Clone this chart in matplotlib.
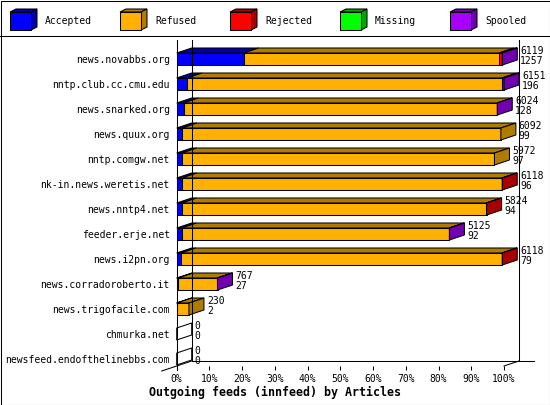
import numpy as np
import matplotlib
matplotlib.use("Agg")
import matplotlib.pyplot as plt
from matplotlib.patches import Polygon, Rectangle

# data
hosts = ["news.novabbs.org", "nntp.club.cc.cmu.edu", "news.snarked.org",
         "news.quux.org", "nntp.comgw.net", "nk-in.news.weretis.net",
         "news.nntp4.net", "feeder.erje.net", "news.i2pn.org",
         "news.corradoroberto.it", "news.trigofacile.com", "chmurka.net",
         "newsfeed.endofthelinebbs.com"]
offered = [6119, 6151, 6024, 6092, 5972, 6118, 5824, 5125, 6118, 767, 230, 0, 0]
accepted = [1257, 196, 128, 99, 97, 96, 94, 92, 79, 27, 2, 0, 0]
refused = [4797, 5915, 5893, 5993, 5875, 6014, 5722, 5030, 6033, 737, 228, 0, 0]
rejected = [60, 0, 0, 0, 0, 8, 8, 0, 6, 0, 0, 0, 0]
missing = [0, 0, 0, 0, 0, 0, 0, 0, 0, 0, 0, 0, 0]
spooled = [5, 40, 3, 0, 0, 0, 0, 3, 0, 3, 0, 0, 0]

series_names = ["Accepted", "Refused", "Rejected", "Missing", "Spooled"]
front_colors = ["#0000ff", "#ffb000", "#ff0000", "#00ff00", "#a800ff"]
dark_colors = ["#0000a8", "#b07c00", "#a80000", "#00a800", "#7000b0"]
pct_labels = ["%d%%" % p for p in range(0, 101, 10)]

FONT = "DejaVu Sans Mono"
FS = 7.0
LW = 0.75
full = max(offered)  # 100%

fig = plt.figure(figsize=(5.5, 4.05), dpi=100)

# plot area in pixels: x 176.7..504, y 40..366
ax = fig.add_axes([176.7 / 550, 1 - 366 / 405, 327.3 / 550, 326 / 405])
ax.set_xlim(0, full)
ax.set_ylim(12.28, -0.76)
for s in ax.spines.values():
    s.set_visible(False)

xpx = full / 327.3      # articles per pixel
ypx = 1 / 25.0          # categories per pixel
dx = 15 * xpx
dy = 5 * ypx
hh = 6 * ypx

ax.set_xticks(np.linspace(0, full, 11))
ax.set_xticklabels(pct_labels, fontfamily=FONT, fontsize=FS)
ax.tick_params(axis="x", direction="out", length=3, width=LW, pad=3)
ax.set_yticks(range(len(hosts)))
ax.set_yticklabels(hosts, fontfamily=FONT, fontsize=FS)
ax.tick_params(axis="y", length=0, pad=5)

floor = 12.28
floor_back = floor - dy
top = -0.76
kw = dict(color="black", lw=LW, clip_on=False)
ax.plot([dx, dx], [top, floor_back], **kw)
ax.plot([full + dx, full + dx], [top, floor_back], **kw)
ax.plot([dx, full + 2 * dx], [floor_back, floor_back], **kw)
ax.plot([-dx, dx], [floor + dy, floor_back], **kw)
ax.plot([full, full + dx], [floor, floor_back], **kw)
ax.plot([0, 0], [top, floor + 4 * ypx], **kw)

segments = [accepted, refused, rejected, missing, spooled]
for i, host in enumerate(hosts):
    yt, yb = i - hh, i + hh
    left = 0
    last = None
    for k, seg in enumerate(segments):
        v = seg[i]
        if v <= 0:
            continue
        right = left + v
        ax.add_patch(Polygon([(left, yt), (right, yt), (right + dx, yt - dy), (left + dx, yt - dy)],
                             closed=True, fc=dark_colors[k], ec="black", lw=LW, clip_on=False))
        ax.add_patch(Rectangle((left, yt), v, yb - yt, fc=front_colors[k], ec="black",
                               lw=LW, clip_on=False))
        last = k
        left = right
    if last is None:
        fc = "white"
    else:
        fc = dark_colors[last]
    ax.add_patch(Polygon([(left, yt), (left + dx, yt - dy), (left + dx, yb - dy), (left, yb)],
                         closed=True, fc=fc, ec="black", lw=LW, clip_on=False))
    tx = offered[i] + dx + 3 * xpx
    ax.text(tx, i - 8.3 * ypx, str(offered[i]), fontfamily=FONT, fontsize=FS,
            va="center", ha="left", clip_on=False)
    ax.text(tx, i + 1.8 * ypx, str(accepted[i]), fontfamily=FONT, fontsize=FS,
            va="center", ha="left", clip_on=False)

# overlay in pixel coordinates for legend and frame
ov = fig.add_axes([0, 0, 1, 1], zorder=-1)
ov.set_xlim(0, 550)
ov.set_ylim(405, 0)
ov.axis("off")
ov.add_patch(Rectangle((0.5, 0.5), 549, 404, fill=False, ec="black", lw=LW))
ov.plot([0, 550], [36, 36], color="black", lw=LW)
for k, name in enumerate(series_names):
    x0 = 10 + 110 * k
    ov.add_patch(Polygon([(x0, 12), (x0 + 21, 12), (x0 + 27, 9), (x0 + 6, 9)], closed=True,
                         fc=dark_colors[k], ec="black", lw=LW))
    ov.add_patch(Polygon([(x0 + 21, 12), (x0 + 27, 9), (x0 + 27, 27), (x0 + 21, 30)], closed=True,
                         fc=dark_colors[k], ec="black", lw=LW))
    ov.add_patch(Rectangle((x0, 12), 21, 18, fc=front_colors[k], ec="black", lw=LW))
    ov.text(x0 + 35, 21, name, fontfamily=FONT, fontsize=FS, va="center", ha="left")

fig.text(275 / 550, 1 - 392 / 405, "Outgoing feeds (innfeed) by Articles",
         fontfamily=FONT, fontsize=8.4, fontweight="bold", ha="center", va="center")

fig.savefig("out.png", dpi=100)
